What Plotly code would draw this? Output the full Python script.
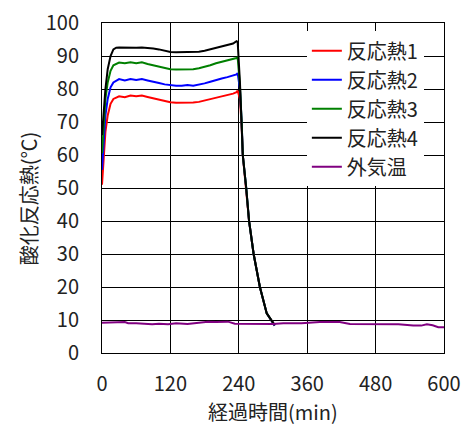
import plotly.graph_objects as go

# time axis for reaction heat series (min)
t_react = [0, 3, 6, 10, 15, 20, 25, 30, 40, 50, 60, 70, 80, 90, 100, 110, 120, 130, 140,
           150, 160, 170, 180, 190, 200, 210, 220, 230, 236, 238, 242, 245, 247, 253, 258,
           266, 277, 289, 300, 303]

heat1 = [51, 60, 67, 72, 75.5, 77, 77.5, 77.8, 77.5, 78, 77.8, 78, 77.6, 77.2, 76.8, 76.3,
         76.0, 75.8, 75.8, 76.0, 75.9, 76.1, 76.5, 77.0, 77.5, 77.8, 78.2, 78.6, 79.0, 79.5,
         77, 69, 60, 50, 40, 30, 20, 12, 9, 8.3]
heat2 = [55.5, 65, 72, 77, 80.5, 82, 82.5, 83, 82.6, 83, 82.7, 83, 82.6, 82.3, 81.8, 81.4,
         81.1, 81.0, 81.0, 81.2, 81.0, 81.3, 81.7, 82.2, 82.8, 83.2, 83.6, 84.0, 84.4, 84.8,
         80, 70, 60, 50, 40, 30, 20, 12, 9, 8.3]
heat3 = [60.5, 70, 77, 82, 85.5, 87.2, 87.7, 88, 87.8, 88.1, 87.8, 88.1, 87.6, 87.2, 86.7,
         86.3, 86.0, 85.9, 85.9, 86.1, 86.0, 86.3, 86.7, 87.2, 87.8, 88.2, 88.6, 89.0, 89.4,
         89.6, 81, 70, 60, 50, 40, 30, 20, 12, 9, 8.4]
heat4 = [66, 74, 80, 86, 90, 92, 92.5, 92.6, 92.5, 92.6, 92.5, 92.6, 92.5, 92.3, 92.0, 91.5,
         91.2, 91.1, 91.1, 91.2, 91.1, 91.3, 91.6, 92.0, 92.5, 92.8, 93.3, 93.8, 94.5, 94.3,
         82, 70, 60, 50, 40, 30, 20, 12, 9, 8.5]

t_air = [0, 20, 40, 46, 60, 88, 100, 116, 130, 150, 170, 186, 200, 221, 233, 260, 280, 300,
         318, 350, 382, 400, 417, 435, 480, 520, 546, 560, 570, 580, 590, 600]
air = [9.2, 9.2, 9.4, 9.0, 9.0, 8.7, 8.9, 8.7, 9.0, 8.8, 9.1, 9.5, 9.4, 9.5, 8.9, 8.9, 8.7,
       8.8, 9.0, 9.0, 9.4, 9.3, 9.4, 8.8, 8.7, 8.7, 8.3, 8.3, 8.7, 8.4, 7.8, 7.8]

names = ["反応熱1", "反応熱2", "反応熱3", "反応熱4", "外気温"]
colors = ["#ff0000", "#0000ff", "#008000", "#000000", "#800080"]

x_ticks = [0, 120, 240, 360, 480, 600]
y_ticks = [0, 10, 20, 30, 40, 50, 60, 70, 80, 90, 100]

FONT = "Noto Sans CJK JP"
TXT = "#222222"

fig = go.Figure()
for name, ys, c in zip(names[:4], [heat1, heat2, heat3, heat4], colors[:4]):
    fig.add_trace(go.Scatter(x=t_react, y=ys, mode="lines", name=name,
                             line=dict(color=c, width=2)))
fig.add_trace(go.Scatter(x=t_air, y=air, mode="lines", name=names[4],
                         line=dict(color=colors[4], width=2)))

fig.update_layout(
    width=462, height=428,
    margin=dict(l=102, r=18, t=23, b=75, autoexpand=False),
    paper_bgcolor="white", plot_bgcolor="white",
    font=dict(family=FONT, size=20, color=TXT),
    showlegend=True,
    legend=dict(x=0.599, y=0.975, xanchor="left", yanchor="top",
                bgcolor="white", borderwidth=0,
                font=dict(family=FONT, size=20, color=TXT),
                tracegroupgap=0, itemwidth=30),
    xaxis=dict(range=[0, 600], tickvals=x_ticks, ticktext=[str(v) for v in x_ticks],
               showgrid=True, gridcolor="black", gridwidth=1,
               showline=True, linecolor="black", linewidth=1, mirror=True,
               ticks="", ticklabelstandoff=13, zeroline=False, automargin=False,
               tickfont=dict(family=FONT, size=20, color=TXT)),
    yaxis=dict(range=[0, 100], tickvals=y_ticks, ticktext=[str(v) for v in y_ticks],
               showgrid=True, gridcolor="black", gridwidth=1,
               showline=True, linecolor="black", linewidth=1, mirror=True,
               ticks="", ticklabelstandoff=18, zeroline=False, automargin=False,
               tickfont=dict(family=FONT, size=20, color=TXT)),
    annotations=[
        dict(text="酸化反応熱(℃)", textangle=-90, xref="paper", yref="paper",
             x=-0.215, y=0.47, xanchor="center", yanchor="middle",
             showarrow=False, font=dict(family=FONT, size=20, color=TXT)),
        dict(text="経過時間(min)", xref="paper", yref="paper",
             x=0.50, y=-0.178, xanchor="center", yanchor="middle",
             showarrow=False, font=dict(family=FONT, size=20, color=TXT)),
    ],
)

fig.write_html("out.html")
